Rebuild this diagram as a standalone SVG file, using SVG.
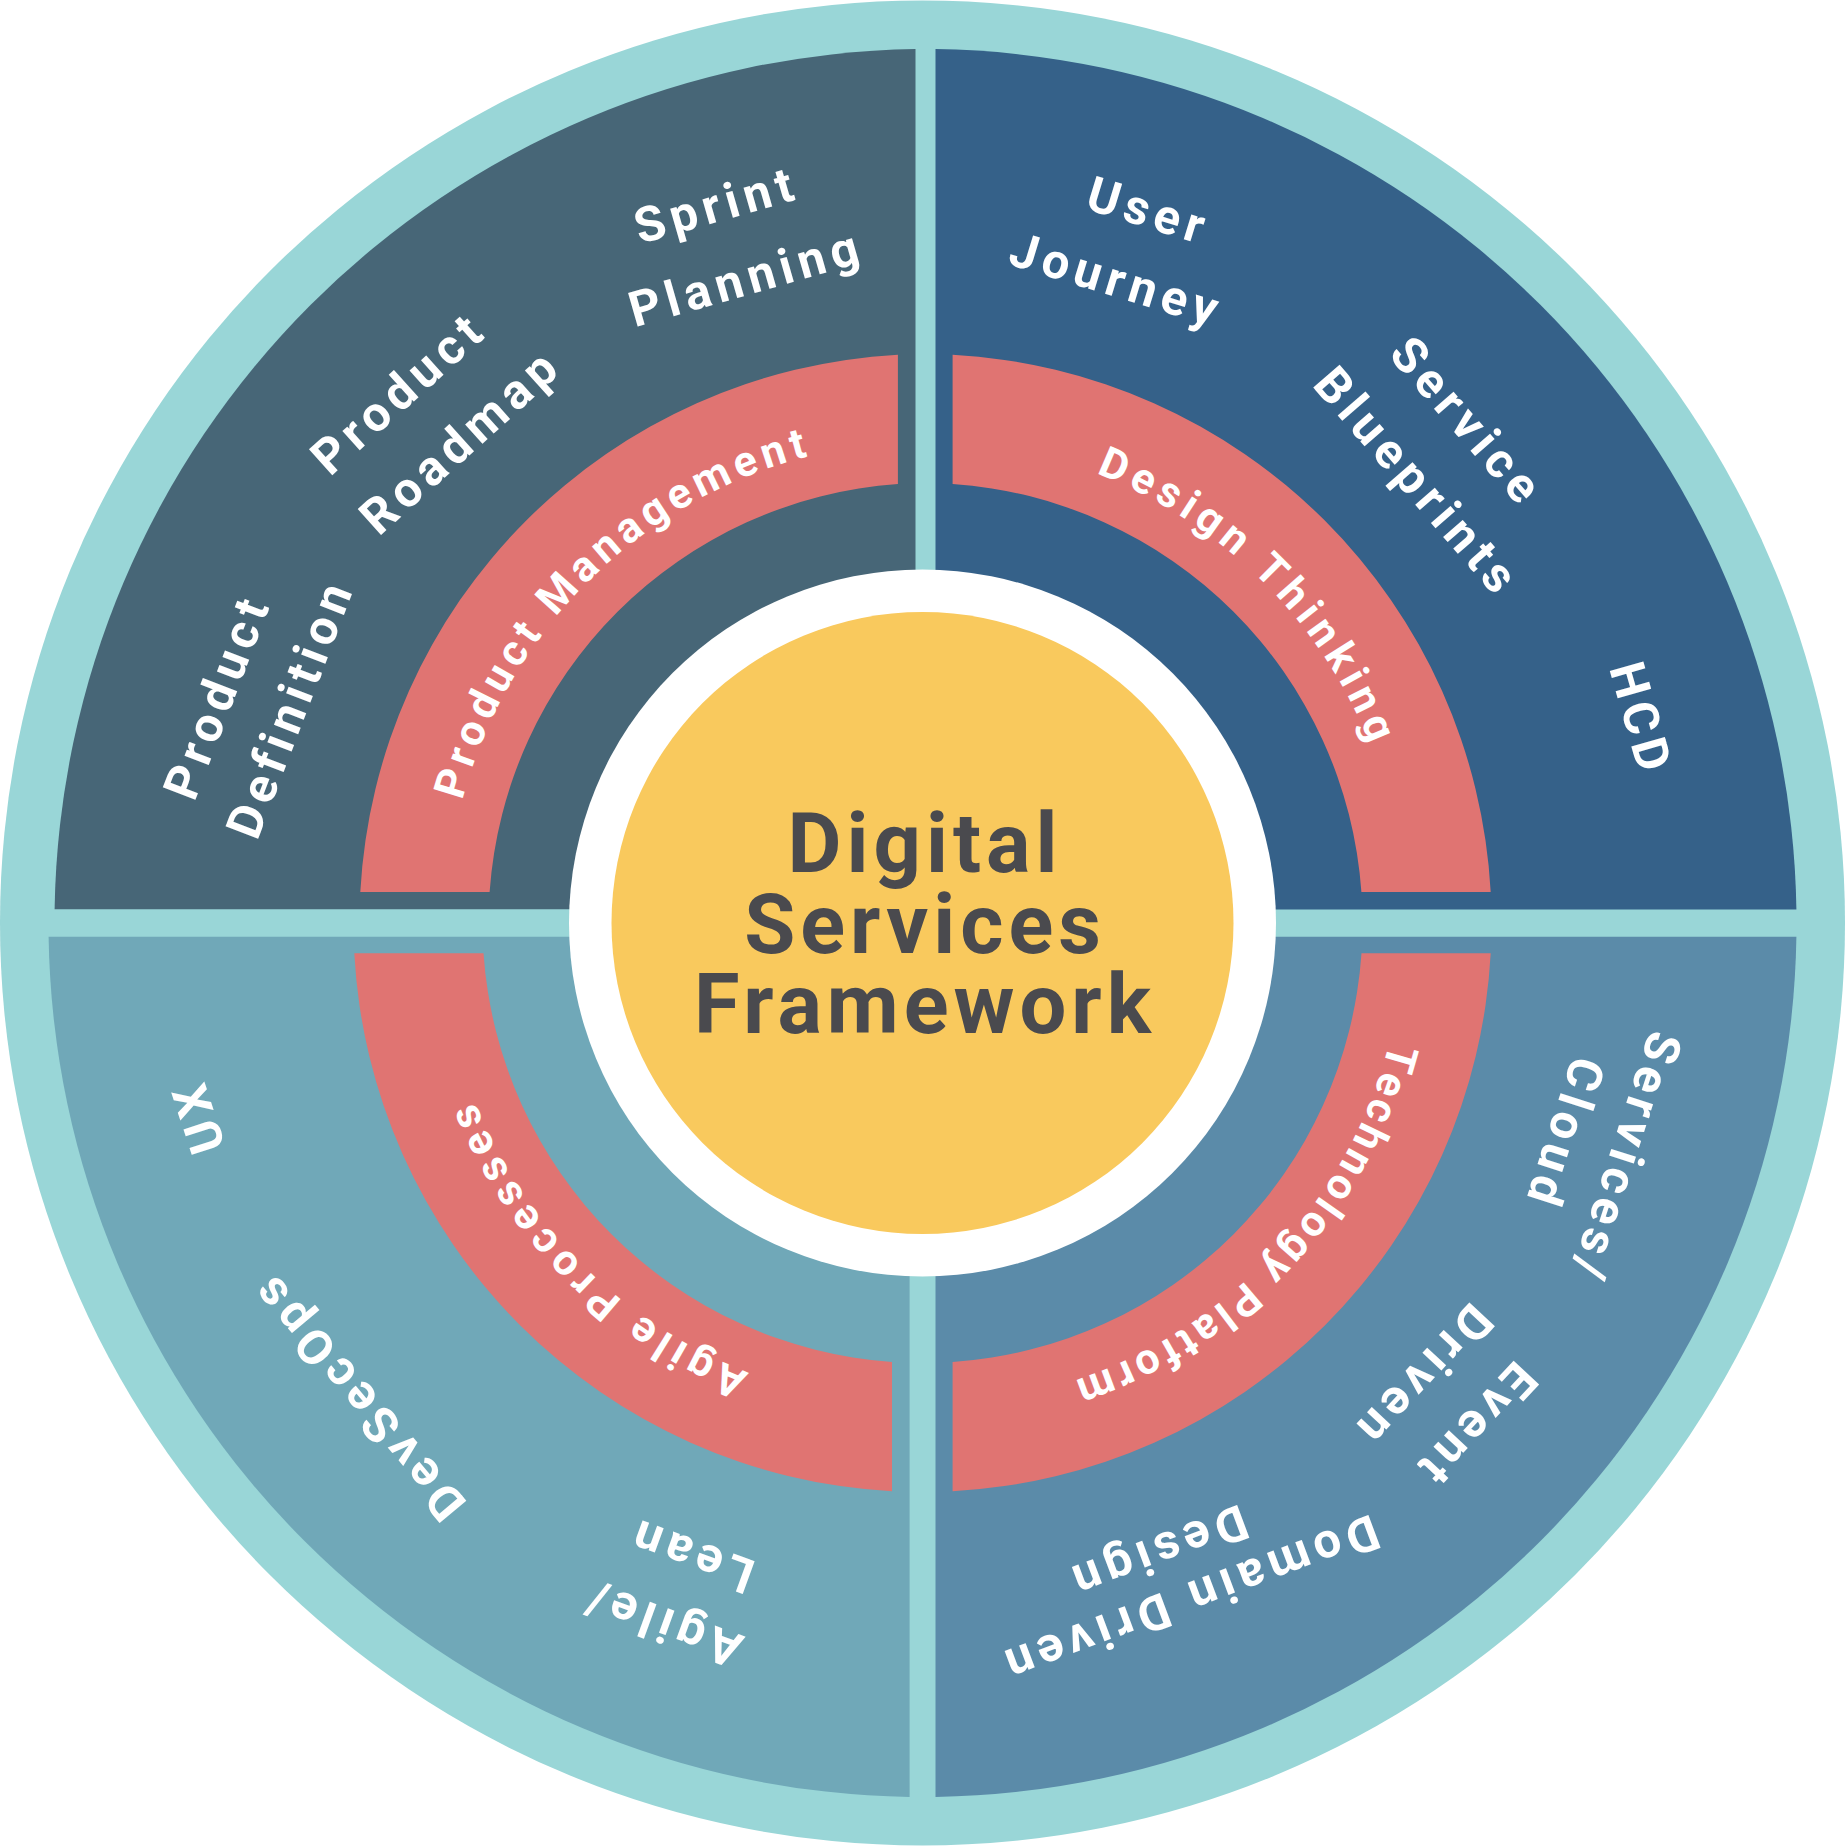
<svg xmlns="http://www.w3.org/2000/svg" width="1845" height="1846" viewBox="0 0 1845 1846">
<defs>
<style>
.lbl{font-family:Roboto,"Liberation Sans",sans-serif;font-weight:700;font-size:49px;fill:#ffffff;letter-spacing:6px;text-anchor:middle}
.band{font-family:Roboto,"Liberation Sans",sans-serif;font-weight:700;font-size:43px;fill:#ffffff;letter-spacing:6px;text-anchor:middle}
.title{font-family:Roboto,"Liberation Sans",sans-serif;font-weight:700;font-size:83px;fill:#4a4a4e;letter-spacing:5px;text-anchor:middle}
.red{fill:#e07472}
</style>
<path id="arcTL" d="M 446.5 923 A 482 482 0 0 1 928.5 441"/>
<path id="arcTR" d="M 922.5 441 A 482 482 0 0 1 1404.5 923"/>
<path id="arcBR" d="M 1404.5 923 A 482 482 0 0 1 922.5 1405"/>
<path id="arcBL" d="M 922.5 1405 A 482 482 0 0 1 440.5 923"/>
</defs>
<rect width="1845" height="1846" fill="#ffffff"/>
<circle cx="922.5" cy="923" r="922.5" fill="#99d6d7"/>

<g id="product-quadrant">
<path d="M 915.5 909.3 L 54.6 909.3 A 874 874 0 0 1 915.5 49.1 Z" fill="#476677"/>
<path class="red" d="M 360.3 892 A 569 569 0 0 1 897.9 354.8 L 897.9 484.1 A 440 440 0 0 0 489.6 892 Z"/>
<text class="band" style="letter-spacing:5.5px"><textPath href="#arcTL" startOffset="50.5%">Product Management</textPath></text>
<text class="lbl" transform="translate(721 221) rotate(-16)">Sprint</text>
<text class="lbl" transform="translate(751 294) rotate(-16)">Planning</text>
<text class="lbl" transform="translate(410 405) rotate(-42)">Product</text>
<text class="lbl" transform="translate(472 453) rotate(-42)">Roadmap</text>
<text class="lbl" transform="translate(233 702) rotate(-69)">Product</text>
<text class="lbl" transform="translate(306 714) rotate(-69)">Definition</text>
</g>

<g id="design-quadrant">
<path d="M 935.5 909.6 L 935.5 49.1 A 874 874 0 0 1 1796.4 909.6 Z" fill="#356189"/>
<path class="red" d="M 952.6 354.8 A 569 569 0 0 1 1490.7 892 L 1361.4 892 A 440 440 0 0 0 952.6 484 Z"/>
<text class="band"><textPath href="#arcTR" startOffset="50%">Design Thinking</textPath></text>
<text class="lbl" transform="translate(1144 227) rotate(17)">User</text>
<text class="lbl" transform="translate(1112 296) rotate(17)">Journey</text>
<text class="lbl" transform="translate(1455 433) rotate(49)">Service</text>
<text class="lbl" transform="translate(1405 493) rotate(49)">Blueprints</text>
<text class="lbl" transform="translate(1625 724) rotate(74)">HCD</text>
</g>

<g id="technology-quadrant">
<path d="M 935.5 936.7 L 1796.4 936.7 A 874 874 0 0 1 935.5 1796.9 Z" fill="#5b8ba9"/>
<path class="red" d="M 1490.7 953.2 A 569 569 0 0 1 952.6 1491.2 L 952.6 1362 A 440 440 0 0 0 1361.5 953.2 Z"/>
<text class="band" style="letter-spacing:4.3px"><textPath href="#arcBR" startOffset="48%">Technology Platform</textPath></text>
<text class="lbl" transform="translate(1610 1153) rotate(108)">Services/</text>
<text class="lbl" transform="translate(1549 1129) rotate(108)">Cloud</text>
<text class="lbl" transform="translate(1464 1414) rotate(133)">Event</text>
<text class="lbl" transform="translate(1411 1365) rotate(133)">Driven</text>
<text class="lbl" transform="translate(1184 1584) rotate(159.5)">Domain Driven</text>
<text class="lbl" transform="translate(1152 1537) rotate(159.5)">Design</text>
</g>

<g id="agile-quadrant">
<path d="M 909.6 936.7 L 909.6 1796.9 A 874 874 0 0 1 48.6 936.7 Z" fill="#70a8b8"/>
<path class="red" d="M 892 1491.2 A 569 569 0 0 1 354.3 953.2 L 483.5 953.2 A 440 440 0 0 0 892 1361.9 Z"/>
<text class="band"><textPath href="#arcBL" startOffset="50%">Agile Processes</textPath></text>
<text class="lbl" transform="translate(214 1111) rotate(252)">UX</text>
<text class="lbl" transform="translate(370 1386) rotate(230)">DevSecOps</text>
<text class="lbl" transform="translate(667 1608) rotate(200)">Agile/</text>
<text class="lbl" transform="translate(696 1540) rotate(200)">Lean</text>
</g>

<g id="center">
<circle cx="922.5" cy="923" r="353.5" fill="#ffffff"/>
<circle cx="922.5" cy="923" r="311" fill="#f9c95d"/>
<text class="title" x="925" y="872">Digital</text>
<text class="title" x="925" y="953">Services</text>
<text class="title" x="925" y="1033">Framework</text>
</g>
</svg>
